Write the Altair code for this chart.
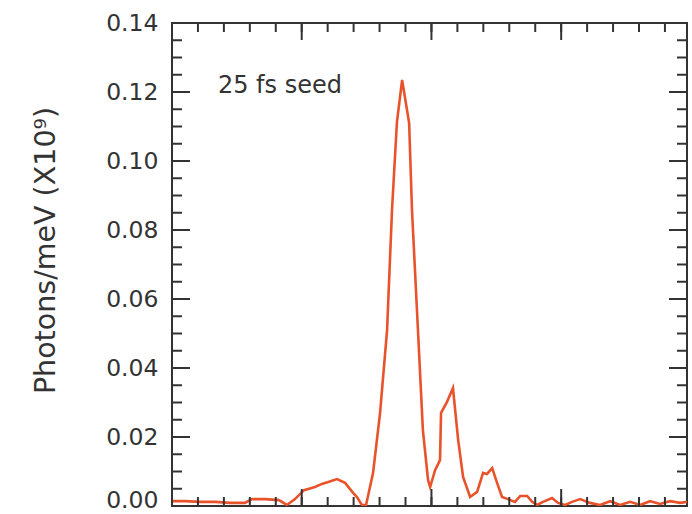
import altair as alt
import pandas as pd

# Spectrum trace (x in minor-tick units, y in photons/meV x1e9)
x_vals = [0.00, 0.50, 1.08, 1.66, 2.24, 2.81, 3.08, 3.59, 4.12, 4.43, 4.74, 5.09, 5.51, 5.78,
          6.05, 6.36, 6.67, 6.98, 7.13, 7.32, 7.48, 7.75, 8.02, 8.29, 8.48, 8.67, 8.87, 9.14,
          9.25, 9.48, 9.67, 9.87, 9.95, 10.14, 10.33, 10.37, 10.60, 10.83, 11.03, 11.22, 11.49,
          11.76, 11.99, 12.14, 12.34, 12.53, 12.72, 12.95, 13.22, 13.42, 13.69, 13.88, 14.07,
          14.30, 14.65, 14.88, 15.15, 15.42, 15.73, 16.11, 16.50, 16.89, 17.27, 17.66, 18.04,
          18.43, 18.81, 19.20, 19.58, 19.85]
y_vals = [0.0014, 0.0014, 0.0012, 0.0012, 0.0009, 0.0009, 0.0020, 0.0020, 0.0017, 0.0003,
          0.0020, 0.0046, 0.0055, 0.0064, 0.0070, 0.0078, 0.0067, 0.0038, 0.0026, 0.0003,
          0.0003, 0.0096, 0.0270, 0.0510, 0.0858, 0.1113, 0.1235, 0.1110, 0.0858, 0.0510,
          0.0220, 0.0075, 0.0055, 0.0104, 0.0133, 0.0270, 0.0302, 0.0342, 0.0191, 0.0084,
          0.0026, 0.0041, 0.0096, 0.0093, 0.0110, 0.0067, 0.0026, 0.0020, 0.0012, 0.0029,
          0.0029, 0.0012, 0.0003, 0.0012, 0.0023, 0.0009, 0.0003, 0.0012, 0.0020, 0.0009,
          0.0003, 0.0014, 0.0003, 0.0012, 0.0003, 0.0014, 0.0006, 0.0014, 0.0009, 0.0012]

y_major = [0.00, 0.02, 0.04, 0.06, 0.08, 0.10, 0.12, 0.14]
y_minor = [round(i * 0.005, 3) for i in range(29)]
x_major = [0, 5, 10, 15]
x_minor = list(range(20))

label_text = ["25 fs seed"]
label_x = [1.77]
label_y = [0.1217]

W, H = 515, 483
X_DOMAIN = [0, 19.85]
Y_DOMAIN = [0, 0.14]
DARK = "#333333"
LINE = "#e8532b"
FONT = "DejaVu Sans"

xs = alt.Scale(domain=X_DOMAIN, nice=False, zero=False)
ys = alt.Scale(domain=Y_DOMAIN, nice=False)

Y_AXIS = alt.Axis(
    values=y_major, format=".2f", ticks=False, domain=False, grid=False,
    labelPadding=14, labelFont=FONT, labelFontSize=23.5, labelColor=DARK,
    labelOffset={"condition": {"test": "datum.value === 0", "value": -6}, "value": 0},
    title="Photons/meV (X10⁹)", titleFont=FONT, titleFontSize=28.5,
    titleFontWeight="normal", titleColor=DARK, titleAngle=270,
    titleAlign="center", titleBaseline="middle", titleX=-127, titleY=227,
)

def Y(field):
    return alt.Y(field, scale=ys, axis=Y_AXIS)

def X(field):
    return alt.X(field, scale=xs, axis=None)

df = pd.DataFrame({"x": x_vals, "y": y_vals})

line = alt.Chart(df).mark_line(color=LINE, strokeWidth=2.6, clip=True).encode(
    x=X("x:Q"), y=Y("y:Q"),
)

ymaj = pd.DataFrame({"v": y_major})
ymin = pd.DataFrame({"v": y_minor})
xmaj = pd.DataFrame({"v": x_major})
xmin = pd.DataFrame({"v": x_minor})

def yticks(data, length):
    left = alt.Chart(data).mark_rule(color=DARK, strokeWidth=2).encode(
        y=Y("v:Q"), x=alt.value(0), x2=alt.value(length))
    right = alt.Chart(data).mark_rule(color=DARK, strokeWidth=2).encode(
        y=Y("v:Q"), x=alt.value(W - length), x2=alt.value(W))
    return [left, right]

def xticks(data, length):
    top = alt.Chart(data).mark_rule(color=DARK, strokeWidth=2).encode(
        x=X("v:Q"), y=alt.value(0), y2=alt.value(length))
    bottom = alt.Chart(data).mark_rule(color=DARK, strokeWidth=2).encode(
        x=X("v:Q"), y=alt.value(H - length), y2=alt.value(H))
    return [top, bottom]

label = alt.Chart(pd.DataFrame({"t": label_text, "x": label_x, "y": label_y})).mark_text(
    align="left", baseline="middle", font=FONT, fontSize=24, color=DARK
).encode(
    x=X("x:Q"), y=Y("y:Q"), text="t:N",
)

layers = [line] + yticks(ymin, 10) + yticks(ymaj, 18) + xticks(xmin, 9) + xticks(xmaj, 17) + [label]

chart = alt.layer(*layers).properties(
    width=W, height=H,
    padding={"left": 172, "top": 23, "right": 5, "bottom": 8},
    autosize=alt.AutoSizeParams(type="none"),
    background="white",
).configure_view(
    stroke=DARK, strokeWidth=2
)

chart.save("out.html", embed_options={"renderer": "svg", "actions": False})
